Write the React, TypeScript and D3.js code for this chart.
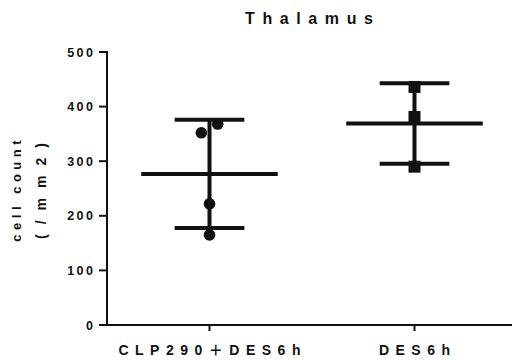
import React from "react";
import * as d3 from "d3";

const width = 512;
const height = 360;

const title = "Thalamus";
const categories = ["CLP290＋DES6h", "DES6h"];
const clpValues = [352, 368, 222, 165];
const desValues = [436, 381, 290];
const clpJitter = [-0.04, 0.04, 0, 0];
const desJitter = [0, 0, 0];
const yTicks = [0, 100, 200, 300, 400, 500];
const yLabel1 = "cell count";
const yLabel2 = "(/mm2)";

const margin = { left: 107, top: 52, bottom: 325 };

const x = d3.scaleBand<string>().domain(categories).range([107, 517]);
const y = d3.scaleLinear().domain([0, 500]).range([margin.bottom, margin.top]);

const groups = [
  { name: categories[0], values: clpValues, jitter: clpJitter, shape: "circle" },
  { name: categories[1], values: desValues, jitter: desJitter, shape: "square" },
];

const font = "'Liberation Sans', Arial, 'Noto Sans CJK JP', sans-serif";
const ink = "#111";

const App = () => {
  const bw = x.bandwidth();
  return (
    <svg
      width={width}
      height={height}
      style={{ position: "absolute", left: 0, top: 0, background: "#fff" }}
      fontFamily={font}
    >
      <text x={309} y={24} dx={3.8} textAnchor="middle" fontSize={16} fontWeight="bold" letterSpacing={7.6} fill={ink}>
        {title}
      </text>

      {/* y axis */}
      <line x1={margin.left} x2={margin.left} y1={y(500) - 1} y2={y(0) + 1} stroke={ink} strokeWidth={2} />
      {yTicks.map((t) => (
        <g key={t}>
          <line x1={margin.left - 8} x2={margin.left} y1={y(t)} y2={y(t)} stroke={ink} strokeWidth={2} />
          <text x={margin.left - 14} y={y(t) + 4.5} dx={2.5} textAnchor="end" fontSize={12.5} fontWeight="bold" letterSpacing={2.5} fill={ink}>
            {t}
          </text>
        </g>
      ))}
      <text transform="translate(21,191) rotate(-90)" textAnchor="middle" fontSize={13} fontWeight="bold" letterSpacing={4.5} dx={2.2} fill={ink}>
        {yLabel1}
      </text>
      <text transform="translate(46,191) rotate(-90)" textAnchor="middle" fontSize={14} fontWeight="bold" letterSpacing={10} dx={5} fill={ink}>
        {yLabel2}
      </text>

      {/* x axis */}
      <line x1={margin.left - 1} x2={width} y1={y(0)} y2={y(0)} stroke={ink} strokeWidth={2} />
      {categories.map((c) => {
        const cx = (x(c) ?? 0) + bw / 2;
        return (
          <g key={c}>
            <line x1={cx} x2={cx} y1={y(0)} y2={y(0) + 6} stroke={ink} strokeWidth={2} />
            <text x={cx} dx={3.2} y={355} textAnchor="middle" fontSize={14} fontWeight="bold" letterSpacing={6.5} fill={ink}>
              {c}
            </text>
          </g>
        );
      })}

      {/* groups */}
      {groups.map((g) => {
        const cx = (x(g.name) ?? 0) + bw / 2;
        const m = d3.mean(g.values) ?? 0;
        const sd = d3.deviation(g.values) ?? 0;
        return (
          <g key={g.name}>
            {g.values.map((v, i) =>
              g.shape === "circle" ? (
                <circle key={i} cx={cx + g.jitter[i] * bw} cy={y(v)} r={5.8} fill={ink} />
              ) : (
                <rect key={i} x={cx + g.jitter[i] * bw - 6} y={y(v) - 6} width={12} height={12} fill={ink} />
              )
            )}
            <line x1={cx} x2={cx} y1={y(m + sd)} y2={y(m - sd)} stroke={ink} strokeWidth={4} />
            <line x1={cx - bw * 0.17} x2={cx + bw * 0.17} y1={y(m + sd)} y2={y(m + sd)} stroke={ink} strokeWidth={4} />
            <line x1={cx - bw * 0.17} x2={cx + bw * 0.17} y1={y(m - sd)} y2={y(m - sd)} stroke={ink} strokeWidth={4} />
            <line x1={cx - bw * 0.333} x2={cx + bw * 0.333} y1={y(m)} y2={y(m)} stroke={ink} strokeWidth={4} />
          </g>
        );
      })}
    </svg>
  );
};

export default App;
